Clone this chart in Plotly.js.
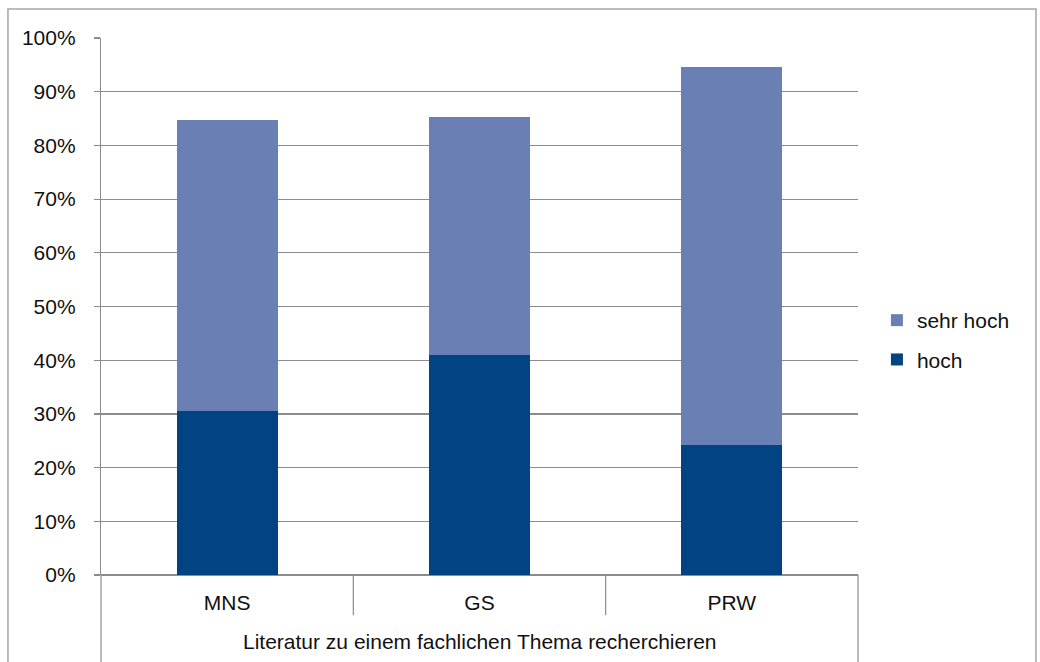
<!DOCTYPE html>
<html>
<head>
<meta charset="utf-8">
<script src="https://cdn.plot.ly/plotly-3.0.1.min.js"></script>
<style>
html,body{margin:0;padding:0;background:#fff;}
#chart{width:1040px;height:662px;}
</style>
</head>
<body>
<div id="chart"></div>
<script>
// Data
const categories = ["MNS", "GS", "PRW"];
const groupLabel = "Literatur zu einem fachlichen Thema recherchieren";
const hoch = [0.305, 0.410, 0.243];
const sehrHoch = [0.543, 0.443, 0.703];
const yTickVals = [0, 0.1, 0.2, 0.3, 0.4, 0.5, 0.6, 0.7, 0.8, 0.9, 1.0];
const yTickText = ["0%", "10%", "20%", "30%", "40%", "50%", "60%", "70%", "80%", "90%", "100%"];

const FONT = "Liberation Sans, Arial, Helvetica, sans-serif";
const FS = 21;
const TXT = "#111111";
const GRID = "#8c8c8c";

const traces = [
  {type: "bar", name: "hoch", x: categories, y: hoch, marker: {color: "#014383"}, legendgroup: "a", legendrank: 2, hoverinfo: "y"},
  {type: "bar", name: "sehr hoch", x: categories, y: sehrHoch, marker: {color: "#6a80b4"}, legendgroup: "b", legendrank: 1, hoverinfo: "y"}
];

// Divider lines of the category axis (between categories and at the ends)
const shapes = [];
for (let i = 0; i < categories.length - 1; i++) {
  shapes.push({type: "line", xref: "x", yref: "paper", x0: i + 0.5, x1: i + 0.5, y0: 0, y1: -0.075,
    line: {color: GRID, width: 1.2}});
}
shapes.push({type: "line", xref: "paper", yref: "paper", x0: 0, x1: 0, y0: 0, y1: -0.2, line: {color: GRID, width: 1.2}});
shapes.push({type: "line", xref: "paper", yref: "paper", x0: 1, x1: 1, y0: 0, y1: -0.2, line: {color: GRID, width: 1.2}});
// Outer chart frame
shapes.push({type: "rect", xref: "paper", yref: "paper", x0: -0.1229, x1: 1.2351, y0: -0.2, y1: 1.054,
  line: {color: "#a6a6a6", width: 1.5}, fillcolor: "rgba(0,0,0,0)", layer: "below"});

const layout = {
  width: 1040, height: 662,
  margin: {l: 101, r: 182, t: 38, b: 87, pad: 0},
  paper_bgcolor: "#ffffff", plot_bgcolor: "#ffffff",
  font: {family: FONT, size: FS, color: TXT},
  barmode: "stack",
  bargap: 0.6,
  showlegend: true,
  legend: {x: 1.025, xanchor: "left", y: 0.4376, yanchor: "middle", traceorder: "grouped",
    font: {family: FONT, size: FS, color: TXT}, tracegroupgap: 9, bgcolor: "rgba(0,0,0,0)"},
  xaxis: {type: "category", range: [-0.5, 2.5], showgrid: false, zeroline: false, showline: false,
    ticks: "", tickfont: {family: FONT, size: FS, color: TXT}, ticklabelstandoff: 13, fixedrange: true},
  yaxis: {range: [0, 1], tickvals: yTickVals, ticktext: yTickText, showgrid: true, gridcolor: GRID, gridwidth: 1.2,
    zeroline: true, zerolinecolor: GRID, zerolinewidth: 1.2,
    showline: true, linecolor: GRID, linewidth: 1.2, ticks: "outside", ticklen: 6, tickcolor: GRID, tickwidth: 1.2,
    ticklabelstandoff: 14, tickfont: {family: FONT, size: FS, color: TXT}, fixedrange: true},
  shapes: shapes,
  annotations: [{xref: "paper", yref: "paper", x: 0.5, y: -0.123, yanchor: "middle", xanchor: "center",
    text: groupLabel, showarrow: false, font: {family: FONT, size: FS, color: TXT}}]
};

Plotly.newPlot("chart", traces, layout, {displayModeBar: false, staticPlot: true});
</script>
</body>
</html>
